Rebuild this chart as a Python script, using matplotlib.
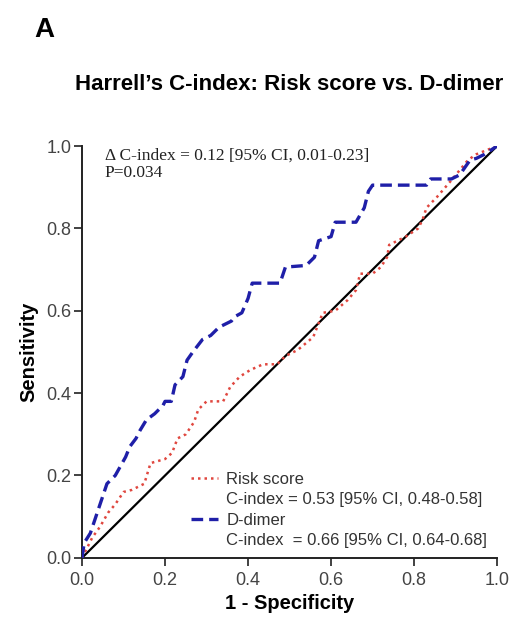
"""
Harrell's C-index ROC comparison: Risk score vs. D-dimer
"""

import matplotlib.pyplot as plt
from matplotlib.lines import Line2D

# ROC curve vertices (1 - specificity, sensitivity)
ddimer_fpr = [0, 0.005, 0.02, 0.03, 0.04, 0.06, 0.08, 0.105, 0.115, 0.13, 0.14,
              0.155, 0.175, 0.195, 0.2, 0.215, 0.224, 0.243, 0.253, 0.267, 0.29,
              0.31, 0.33, 0.36, 0.367, 0.385, 0.40, 0.41, 0.477, 0.49, 0.54,
              0.56, 0.57, 0.6, 0.61, 0.66, 0.68, 0.69, 0.70, 0.83, 0.84, 0.89,
              0.91, 0.935, 0.95, 0.97, 1.0]
ddimer_tpr = [0, 0.036, 0.06, 0.09, 0.12, 0.18, 0.2, 0.245, 0.27, 0.29, 0.31,
              0.335, 0.35, 0.37, 0.38, 0.38, 0.42, 0.44, 0.48, 0.5, 0.53,
              0.54, 0.56, 0.575, 0.585, 0.595, 0.63, 0.667, 0.667, 0.706, 0.71,
              0.73, 0.77, 0.78, 0.815, 0.815, 0.85, 0.89, 0.905, 0.905, 0.92, 0.92,
              0.93, 0.966, 0.97, 0.98, 1.0]

risk_fpr = [0, 0.01, 0.025, 0.043, 0.063, 0.08, 0.1, 0.12, 0.15, 0.165, 0.2,
            0.217, 0.23, 0.25, 0.27, 0.28, 0.3, 0.34, 0.357, 0.38, 0.405, 0.436,
            0.47, 0.49, 0.52, 0.557, 0.58, 0.61, 0.64, 0.66, 0.67, 0.7, 0.72,
            0.735, 0.74, 0.78, 0.81, 0.82, 0.83, 0.855, 0.89, 0.93, 0.95, 1.0]
risk_tpr = [0, 0.02, 0.05, 0.075, 0.11, 0.13, 0.16, 0.165, 0.18, 0.23, 0.24,
            0.255, 0.29, 0.30, 0.33, 0.36, 0.38, 0.38, 0.415, 0.44, 0.456, 0.47,
            0.47, 0.49, 0.505, 0.536, 0.595, 0.6, 0.626, 0.65, 0.69, 0.69, 0.706,
            0.73, 0.76, 0.78, 0.80, 0.82, 0.85, 0.876, 0.917, 0.966, 0.98, 1.0]

ref_line = [0, 1]
ticks = [0.0, 0.2, 0.4, 0.6, 0.8, 1.0]

risk_label = "Risk score"
risk_stats = "C-index = 0.53 [95% CI, 0.48-0.58]"
ddimer_label = "D-dimer"
ddimer_stats = "C-index  = 0.66 [95% CI, 0.64-0.68]"
delta_text = "\u0394 C-index = 0.12 [95% CI, 0.01-0.23]\nP=0.034"

plt.rcParams["font.family"] = ["Liberation Sans", "DejaVu Sans"]

fig = plt.figure(figsize=(5.26, 6.24), dpi=100)
ax = fig.add_axes([0.156, 0.106, 0.789, 0.660])

red = "#e0473f"
blue = "#1f1fa8"

ax.plot(ref_line, ref_line, color="black", linewidth=1.6, zorder=2)
ax.plot(risk_fpr, risk_tpr, color=red, linestyle=(0, (1, 1.6)),
        linewidth=1.8, zorder=3)
ax.plot(ddimer_fpr, ddimer_tpr, color=blue, linestyle=(0, (3.5, 1.8)),
        linewidth=2.4, zorder=4)

ax.set_xlim(0, 1)
ax.set_ylim(0, 1)
ax.set_xticks(ticks)
ax.set_yticks(ticks)
ax.set_xticklabels([f"{t:.1f}" for t in ticks])
ax.set_yticklabels([f"{t:.1f}" for t in ticks])
ax.tick_params(direction="out", length=6, width=1.3, labelsize=13,
               colors="#333333", labelcolor="#444444")
ax.tick_params(axis="x", pad=4)
ax.tick_params(axis="y", pad=1.5)
for side in ["top", "right"]:
    ax.spines[side].set_visible(False)
for side in ["left", "bottom"]:
    ax.spines[side].set_linewidth(1.4)
    ax.spines[side].set_color("#222222")

ax.set_xlabel("1 - Specificity", fontsize=14.5, fontweight="bold", labelpad=4)
ax.set_ylabel("Sensitivity", fontsize=14.5, fontweight="bold", labelpad=6)
ax.set_title("Harrell\u2019s C-index: Risk score vs. D-dimer", fontsize=16,
             fontweight="bold", pad=40)

fig.text(0.066, 0.952, "A", fontsize=20, fontweight="bold", ha="left", va="center")

ax.text(0.055, 0.995, delta_text, transform=ax.transAxes, fontsize=12.5,
        family=["Liberation Serif", "DejaVu Serif"], va="top", ha="left",
        linespacing=1.05, color="#222222")

blank = Line2D([], [], linestyle="none")
handles = [
    Line2D([], [], color=red, linestyle=(0, (1, 1.6)), linewidth=1.8),
    blank,
    Line2D([], [], color=blue, linestyle=(0, (3.5, 1.8)), linewidth=2.4),
    blank,
]
labels = [risk_label, risk_stats, ddimer_label, ddimer_stats]
leg = ax.legend(handles, labels, loc="lower right", frameon=False,
                fontsize=12, handlelength=1.6, handletextpad=0.5,
                labelspacing=0.32, borderaxespad=0.2,
                bbox_to_anchor=(1.0, 0.0))
for txt in leg.get_texts():
    txt.set_color("#333333")

fig.savefig("out.png", dpi=100)
